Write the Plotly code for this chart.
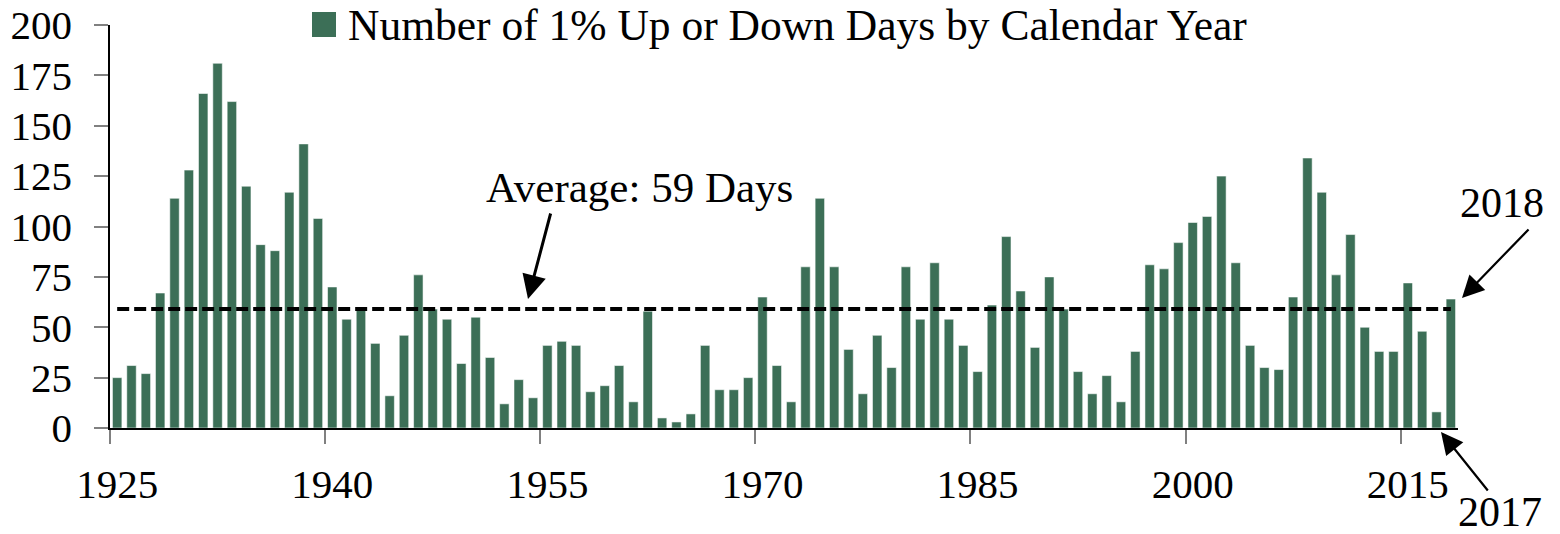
import plotly.graph_objects as go

years = list(range(1925, 2019))
days = [25, 31, 27, 67, 114, 128, 166, 181, 162, 120,
        91, 88, 117, 141, 104, 70, 54, 59, 42, 16,
        46, 76, 59, 54, 32, 55, 35, 12, 24, 15,
        41, 43, 41, 18, 21, 31, 13, 58, 5, 3,
        7, 41, 19, 19, 25, 65, 31, 13, 80, 114,
        80, 39, 17, 46, 30, 80, 54, 82, 54, 41,
        28, 61, 95, 68, 40, 75, 59, 28, 17, 26,
        13, 38, 81, 79, 92, 102, 105, 125, 82, 41,
        30, 29, 65, 134, 117, 76, 96, 50, 38, 38,
        72, 48, 8, 64]
average = 59
label_years = [1925, 1940, 1955, 1970, 1985, 2000, 2015]
y_ticks = [0, 25, 50, 75, 100, 125, 150, 175, 200]
series_name = "Number of 1% Up or Down Days by Calendar Year"

FONT = "Liberation Serif"
GREEN = "#3c6f57"
OFF = 8  # page body margin
PL, PT, PW, PH = 110, 25, 1348, 403   # plot area in window pixels
W, H = 1560 - OFF, 534 - OFF
L, T = PL - OFF, PT - OFF
R, B = W - L - PW, H - T - PH

def px(xp):
    return (xp - PL) / PW

def py(yp):
    return (PT + PH - yp) / PH

fig = go.Figure()
fig.add_trace(go.Bar(
    x=years, y=days, name=series_name, width=0.66,
    marker=dict(color=GREEN, line=dict(color="rgba(255,255,255,0.55)", width=1)),
    showlegend=False,
))

fig.add_shape(type="line", xref="x", yref="y",
              x0=years[0], x1=years[-1], y0=average, y1=average,
              line=dict(color="black", width=4, dash="12px,5px"))

# legend (manual, to match large square swatch)
fig.add_shape(type="rect", xref="paper", yref="paper",
              x0=px(312), x1=px(336), y0=py(37), y1=py(12),
              fillcolor=GREEN, line=dict(width=0))
fig.add_annotation(xref="paper", yref="paper", x=px(346), y=py(25),
                   xanchor="left", yanchor="middle", showarrow=False,
                   text=series_name, font=dict(family=FONT, size=43.5, color="black"))

# average label and arrow
fig.add_annotation(xref="paper", yref="paper", x=px(639), y=py(187),
                   xanchor="center", yanchor="middle", showarrow=False,
                   text=f"Average: {average} Days",
                   font=dict(family=FONT, size=43, color="black"))
fig.add_annotation(xref="paper", yref="paper", x=px(528), y=py(299), ax=23, ay=-87,
                   text="", showarrow=True, arrowhead=2, arrowsize=1.6,
                   arrowwidth=3, arrowcolor="black")

# 2018 / 2017 callouts
fig.add_annotation(xref="paper", yref="paper", x=px(1502), y=py(203),
                   xanchor="center", yanchor="middle", showarrow=False,
                   text="2018", font=dict(family=FONT, size=42, color="black"))
fig.add_annotation(xref="paper", yref="paper", x=px(1462), y=py(298), ax=68, ay=-70,
                   text="", showarrow=True, arrowhead=2, arrowsize=2,
                   arrowwidth=2.2, arrowcolor="black")
fig.add_annotation(xref="paper", yref="paper", x=px(1500), y=py(512),
                   xanchor="center", yanchor="middle", showarrow=False,
                   text="2017", font=dict(family=FONT, size=42, color="black"))
fig.add_annotation(xref="paper", yref="paper", x=px(1441), y=py(432), ax=48, ay=60,
                   text="", showarrow=True, arrowhead=2, arrowsize=2,
                   arrowwidth=2.2, arrowcolor="black")

fig.update_layout(
    width=W, height=H,
    margin=dict(l=L, r=R, t=T, b=B, pad=0, autoexpand=False),
    plot_bgcolor="white", paper_bgcolor="white",
    font=dict(family=FONT, size=41, color="black"),
    bargap=0.34,
    xaxis=dict(
        range=[years[0] - 0.5, years[-1] + 0.5],
        tickmode="array", tickvals=label_years,
        ticktext=[str(y) for y in label_years],
        ticks="", ticklabelstandoff=19, automargin=False,
        ticklabeloverflow="allow",
        showline=True, linecolor="black", linewidth=1.5,
        showgrid=False, zeroline=False,
        minor=dict(tick0=years[0] - 0.5, dtick=15, ticks="outside",
                   ticklen=14, tickwidth=1.5, tickcolor="#808080", showgrid=False),
        tickfont=dict(family=FONT, size=41),
    ),
    yaxis=dict(
        range=[0, 200], tickmode="array", tickvals=y_ticks,
        ticks="outside", ticklen=14, tickwidth=1.5, tickcolor="#808080",
        ticklabelstandoff=14, automargin=False,
        ticklabeloverflow="allow",
        showline=True, linecolor="black", linewidth=1.5,
        showgrid=False, zeroline=False,
        tickfont=dict(family=FONT, size=41),
    ),
)

fig.write_html("out.html")
